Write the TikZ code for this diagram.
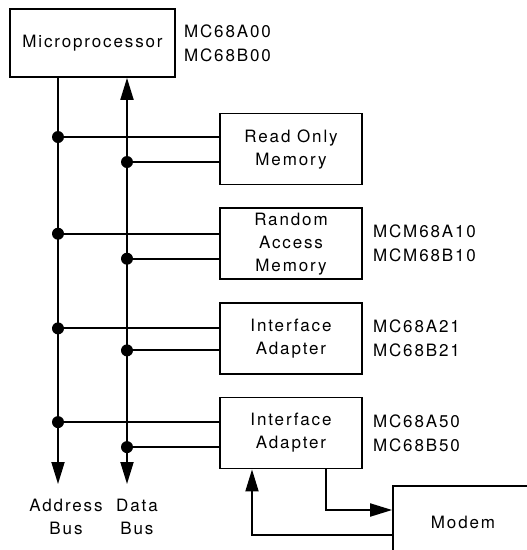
\documentclass[tikz,border=0pt]{standalone}
\usepackage{fontspec}
\setmainfont{TeX Gyre Heros}[LetterSpace=11]
\usepackage{tikz}
\usetikzlibrary{arrows.meta,positioning,calc}

\begin{document}
\begin{tikzpicture}[
        x=1pt, y=-1pt,
        font=\fontsize{17}{23}\selectfont,
        unit/.style={rectangle, draw, fill=white, align=center, minimum width=142pt, minimum height=71pt, inner sep=0pt, line width=1.7pt},
        partno/.style={align=left, inner sep=0pt, font=\fontsize{17}{24}\selectfont},
        bus/.style={draw, line width=1.9pt},
        arrow/.style={draw, line width=1.9pt, -{Triangle[length=22pt,width=13pt]}},
        dualarrow/.style={draw, line width=1.9pt, {Triangle[length=22pt,width=13pt]}-{Triangle[length=22pt,width=13pt]}},
        tap/.style={circle, fill, inner sep=0pt, minimum size=12pt}
    ]
    \useasboundingbox (0,0) rectangle (527,550);

    % Microprocessor
    \node [unit, minimum width=165pt, minimum height=68pt] (mpu) at (92.5,43) {Microprocessor};
    \node [partno, right=8pt of mpu] (mpuno) {MC68A00\\MC68B00};

    % Memories and adapters
    \node [unit] (rom) at (291,149) {Read Only\\Memory};
    \node [unit, below=22pt of rom] (ram) {Random\\Access\\Memory};
    \node [partno, right=10pt of ram] (ramno) {MCM68A10\\MCM68B10};
    \node [unit, below=22pt of ram] (pia) {Interface\\Adapter};
    \node [partno, right=10pt of pia] (piano) {MC68A21\\MC68B21};
    \node [unit, below=22pt of pia] (acia) {Interface\\Adapter};
    \node [partno, right=10pt of acia] (aciano) {MC68A50\\MC68B50};

    % Modem
    \node [unit, minimum width=140pt, minimum height=72pt] (modem) at (463,522) {Modem};

    % Address and data bus
    \coordinate (aend) at (58,484);
    \coordinate (dend) at (127,484);
    \path [arrow] (mpu.south -| aend) -- (aend);
    \path [dualarrow] (mpu.south -| dend) -- (dend);
    \node [align=center, inner sep=0pt, below] (abuslabel) at (66,499) {Address\\Bus};
    \node [align=center, inner sep=0pt, below] (dbuslabel) at (137,499) {Data\\Bus};

    % Bus taps
    \coordinate (romA) at ($(rom.west)+(0,-12)$);
    \coordinate (romD) at ($(rom.west)+(0,13)$);
    \node [tap] (romAt) at (romA -| aend) {};
    \node [tap] (romDt) at (romD -| dend) {};
    \path [bus] (romAt) -- (romA);
    \path [bus] (romDt) -- (romD);

    \coordinate (ramA) at ($(ram.west)+(0,-10)$);
    \coordinate (ramD) at ($(ram.west)+(0,15)$);
    \node [tap] (ramAt) at (ramA -| aend) {};
    \node [tap] (ramDt) at (ramD -| dend) {};
    \path [bus] (ramAt) -- (ramA);
    \path [bus] (ramDt) -- (ramD);

    \coordinate (piaA) at ($(pia.west)+(0,-10)$);
    \coordinate (piaD) at ($(pia.west)+(0,12)$);
    \node [tap] (piaAt) at (piaA -| aend) {};
    \node [tap] (piaDt) at (piaD -| dend) {};
    \path [bus] (piaAt) -- (piaA);
    \path [bus] (piaDt) -- (piaD);

    \coordinate (aciaA) at ($(acia.west)+(0,-11)$);
    \coordinate (aciaD) at ($(acia.west)+(0,14)$);
    \node [tap] (aciaAt) at (aciaA -| aend) {};
    \node [tap] (aciaDt) at (aciaD -| dend) {};
    \path [bus] (aciaAt) -- (aciaA);
    \path [bus] (aciaDt) -- (aciaD);

    % Modem link
    \coordinate (aciaout) at ($(acia.south)+(35,0)$);
    \coordinate (modemin) at ($(modem.west)+(0,-12)$);
    \path [arrow] (aciaout) |- (modemin);
    \coordinate (modemout) at ($(modem.west)+(0,13)$);
    \coordinate (aciain) at ($(acia.south)+(-39,0)$);
    \path [arrow] (modemout) -| (aciain);

\end{tikzpicture}
\end{document}
